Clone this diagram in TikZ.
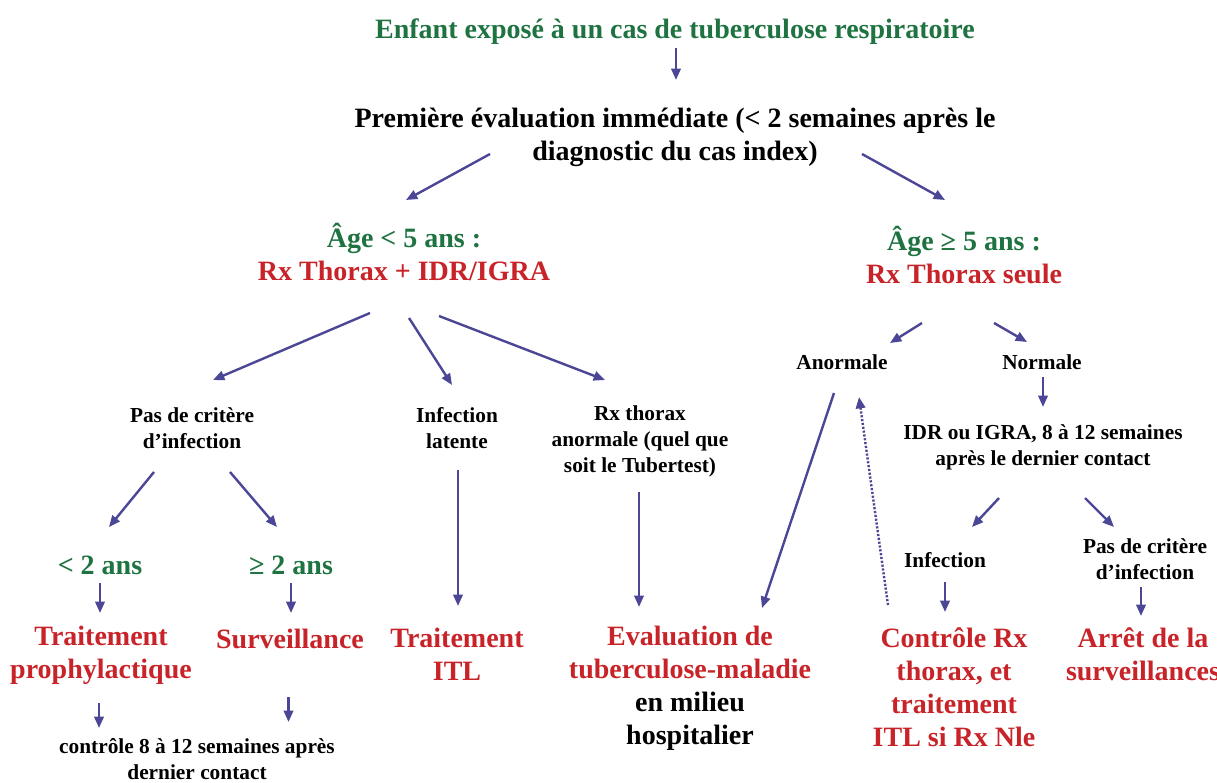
\documentclass[tikz,border=0pt]{standalone}
\usepackage{fontspec}
\setmainfont{Liberation Serif}
\usetikzlibrary{arrows.meta, calc}
\definecolor{greentxt}{RGB}{30,115,65}
\definecolor{redtxt}{RGB}{200,35,40}
\definecolor{arrowblue}{RGB}{75,70,150}

\begin{document}
\begin{tikzpicture}[
        x=0.75pt, y=-0.75pt,
        big/.style={
                font=\fontsize{21}{24.75}\selectfont\bfseries,
                align=center, inner sep=0pt
            },
        small/.style={
                font=\fontsize{16}{19.5}\selectfont\bfseries,
                align=center, inner sep=0pt
            },
        result/.style={big, text=redtxt},
        arrow/.style={-{Triangle[length=8.5pt, width=7pt]}, line width=1.8pt, draw=arrowblue},
        feedback/.style={arrow, dash pattern=on 1.6pt off 1.3pt}
    ]

    % ===== Frame =====
    \fill[white] (0,0) rectangle (1217,782);
    \useasboundingbox (0,0) rectangle (1217,782);

    % ===== Top =====
    \node[big, text=greentxt] (title) at (675,32) {Enfant exposé à un cas de tuberculose respiratoire};
    \node[big] (first) at (675,137) {Première évaluation immédiate (< 2 semaines après le\\diagnostic du cas index)};

    % ===== Age groups =====
    \node[big] (ageA) at (404,252) {\textcolor{greentxt}{Âge < 5 ans :}\\\textcolor{redtxt}{Rx Thorax + IDR/IGRA}};
    \node[big] (ageB) at (964,255) {\textcolor{greentxt}{Âge ≥ 5 ans :}\\\textcolor{redtxt}{Rx Thorax seule}};

    % ===== Left branch =====
    \node[small] (nocrit) at (192,428) {Pas de critère\\d’infection};
    \node[small] (latent) at (457,428) {Infection\\latente};
    \node[small] (rxabn) at (640,441) {Rx thorax\\anormale (quel que\\soit le Tubertest)};

    \node[big, text=greentxt] (lt2) at (100,565) {< 2 ans};
    \node[big, text=greentxt] (ge2) at (291,565) {≥ 2 ans};

    \node[result] (prophy) at (101,655) {Traitement\\prophylactique};
    \node[result] (surv) at (290,639) {Surveillance};
    \node[result] (itl) at (457,654) {Traitement\\ITL};
    \node[big] (eval) at (690,688) {\textcolor{redtxt}{Evaluation de}\\\textcolor{redtxt}{tuberculose-maladie}\\en milieu\\hospitalier};

    \node[small] (ctrl) at (197,759) {contrôle 8 à 12 semaines après\\dernier contact};

    % ===== Right branch =====
    \node[small] (anorm) at (842,362) {Anormale};
    \node[small] (norm) at (1042,362) {Normale};
    \node[small] (idr) at (1043,447) {IDR ou IGRA, 8 à 12 semaines\\après le dernier contact};
    \node[small] (infect) at (945,560) {Infection};
    \node[small] (nocritB) at (1145,559) {Pas de critère\\d’infection};

    \node[result] (ctrlrx) at (954,687) {Contrôle Rx\\thorax, et\\traitement\\ITL si Rx Nle};
    \node[result] (arret) at (1143,654) {Arrêt de la\\surveillances};

    % ===== Arrows =====
    \draw[arrow] ($(title)+(1,16)$) -- ($(first)+(1,-57)$);
    \draw[arrow] ($(first)+(-185,17)$) -- ($(ageA)+(2,-52)$);
    \draw[arrow] ($(first)+(187,17)$) -- ($(ageB)+(-19,-55)$);

    % Age < 5
    \draw[arrow] ($(ageA)+(-34,61)$) -- ($(nocrit)+(21,-48)$);
    \draw[arrow] ($(ageA)+(5,66)$) -- ($(latent)+(-5,-43)$);
    \draw[arrow] ($(ageA)+(35,64)$) -- ($(rxabn)+(-35,-61)$);
    \draw[arrow] ($(nocrit)+(-38,44)$) -- ($(lt2)+(9,-38)$);
    \draw[arrow] ($(nocrit)+(38,44)$) -- ($(ge2)+(-14,-38)$);
    \draw[arrow] ($(lt2)+(0,18)$) -- ($(prophy)+(-1,-42)$);
    \draw[arrow] ($(ge2)+(0,18)$) -- ($(surv)+(1,-26)$);
    \draw[arrow] ($(prophy)+(-2,48)$) -- ($(ctrl)+(-98,-31)$);
    \draw[arrow] ($(surv)+(-1.5,58)$) -- ($(ctrl)+(91.5,-37)$);
    \draw[arrow] ($(latent)+(1,42)$) -- ($(itl)+(1,-48)$);
    \draw[arrow] ($(rxabn)+(-1,51)$) -- ($(eval)+(-51,-81)$);

    % Age >= 5
    \draw[arrow] ($(ageB)+(-42,68)$) -- ($(anorm)+(48,-19)$);
    \draw[arrow] ($(ageB)+(30,68)$) -- ($(norm)+(-15,-20)$);
    \draw[arrow] ($(anorm)+(-8,31)$) -- ($(eval)+(72,-80)$);
    \draw[feedback] ($(ctrlrx)+(-66,-82)$) -- ($(anorm)+(17,35)$);
    \draw[arrow] ($(norm)+(1,15)$) -- ($(idr)+(0,-40)$);
    \draw[arrow] ($(idr)+(-44,51)$) -- ($(infect)+(27,-33)$);
    \draw[arrow] ($(idr)+(42,51)$) -- ($(nocritB)+(-31,-32)$);
    \draw[arrow] ($(infect)+(0,22)$) -- ($(ctrlrx)+(-9,-75)$);
    \draw[arrow] ($(nocritB)+(-4,28)$) -- ($(arret)+(-2,-38)$);

\end{tikzpicture}
\end{document}
